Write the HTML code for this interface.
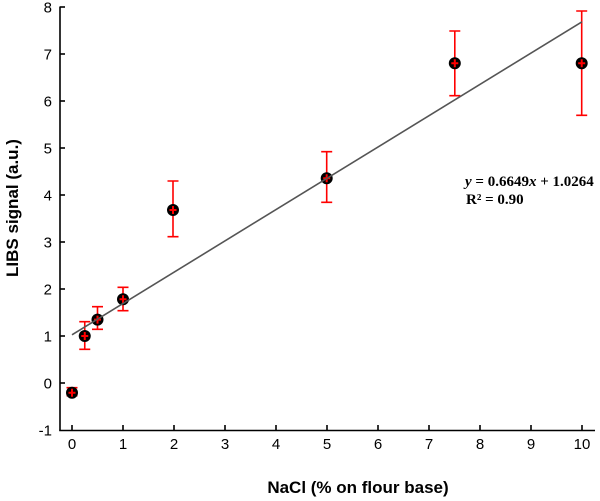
<!DOCTYPE html>
<html><head><meta charset="utf-8"><style>
html,body{margin:0;padding:0;background:#fff;}
svg{display:block;}
</style></head><body>
<svg width="600" height="501" viewBox="0 0 600 501" xmlns="http://www.w3.org/2000/svg">
<rect width="600" height="501" fill="#fff"/>
<!-- axes -->
<g stroke="#000" stroke-width="1.6" fill="none">
<line x1="60" y1="6.5" x2="60" y2="430.5"/>
<line x1="59.2" y1="430.5" x2="595" y2="430.5"/>
<!-- y ticks -->
<line x1="60" y1="7" x2="65" y2="7"/>
<line x1="60" y1="54" x2="65" y2="54"/>
<line x1="60" y1="101" x2="65" y2="101"/>
<line x1="60" y1="148" x2="65" y2="148"/>
<line x1="60" y1="195" x2="65" y2="195"/>
<line x1="60" y1="242" x2="65" y2="242"/>
<line x1="60" y1="289" x2="65" y2="289"/>
<line x1="60" y1="336" x2="65" y2="336"/>
<line x1="60" y1="383" x2="65" y2="383"/>
<!-- x ticks -->
<line x1="72" y1="430" x2="72" y2="425"/>
<line x1="123" y1="430" x2="123" y2="425"/>
<line x1="174" y1="430" x2="174" y2="425"/>
<line x1="225" y1="430" x2="225" y2="425"/>
<line x1="276" y1="430" x2="276" y2="425"/>
<line x1="327" y1="430" x2="327" y2="425"/>
<line x1="378" y1="430" x2="378" y2="425"/>
<line x1="429" y1="430" x2="429" y2="425"/>
<line x1="480" y1="430" x2="480" y2="425"/>
<line x1="531" y1="430" x2="531" y2="425"/>
<line x1="582" y1="430" x2="582" y2="425"/>
</g>
<!-- y labels -->
<g font-family="Liberation Sans, Arial, sans-serif" font-size="15" fill="#000" text-anchor="end">
<text x="52" y="12.5">8</text>
<text x="52" y="59.5">7</text>
<text x="52" y="106.5">6</text>
<text x="52" y="153.5">5</text>
<text x="52" y="200.5">4</text>
<text x="52" y="247.5">3</text>
<text x="52" y="294.5">2</text>
<text x="52" y="341.5">1</text>
<text x="52" y="388.5">0</text>
<text x="52" y="435.5">-1</text>
</g>
<!-- x labels -->
<g font-family="Liberation Sans, Arial, sans-serif" font-size="15" fill="#000" text-anchor="middle">
<text x="72" y="449">0</text>
<text x="123" y="449">1</text>
<text x="174" y="449">2</text>
<text x="225" y="449">3</text>
<text x="276" y="449">4</text>
<text x="327" y="449">5</text>
<text x="378" y="449">6</text>
<text x="429" y="449">7</text>
<text x="480" y="449">8</text>
<text x="531" y="449">9</text>
<text x="582" y="449">10</text>
</g>
<!-- titles -->
<text x="358" y="493" font-family="Liberation Sans, Arial, sans-serif" font-size="17" font-weight="bold" text-anchor="middle">NaCl (% on flour base)</text>
<text transform="translate(18,208) rotate(-90)" font-family="Liberation Sans, Arial, sans-serif" font-size="17" font-weight="bold" text-anchor="middle">LIBS signal (a.u.)</text>
<!-- error bars -->
<g stroke="#ff0000" stroke-width="1.6" fill="none">
<path d="M72 387.7V395.7M66.5 387.7H77.5M66.5 395.7H77.5"/>
<path d="M84.75 321.7V349.3M79.25 321.7H90.25M79.25 349.3H90.25"/>
<path d="M97.5 306.7V329.3M92 306.7H103M92 329.3H103"/>
<path d="M123 287.3V310.7M117.5 287.3H128.5M117.5 310.7H128.5"/>
<path d="M173 181V236.7M167.5 181H178.5M167.5 236.7H178.5"/>
<path d="M326.7 151.7V202.3M321.2 151.7H332.2M321.2 202.3H332.2"/>
<path d="M454.8 31V95.7M449.3 31H460.3M449.3 95.7H460.3"/>
<path d="M581.7 11V115.3M576.2 11H587.2M576.2 115.3H587.2"/>
</g>
<!-- markers -->
<g fill="#000">
<circle cx="72" cy="392.7" r="6"/>
<circle cx="84.75" cy="336" r="6"/>
<circle cx="97.5" cy="319.6" r="6"/>
<circle cx="123" cy="299.3" r="6"/>
<circle cx="173" cy="210" r="6"/>
<circle cx="326.7" cy="178.3" r="6"/>
<circle cx="454.8" cy="63.3" r="6"/>
<circle cx="581.7" cy="63.3" r="6"/>
</g>
<!-- red crosses -->
<g stroke="#ff0000" stroke-width="2" fill="none">
<path d="M72 388.7V396.7M68.5 392.7H75.5"/>
<path d="M84.75 332V340M81.25 336H88.25"/>
<path d="M97.5 315.6V323.6M94 319.6H101"/>
<path d="M123 295.3V303.3M119.5 299.3H126.5"/>
<path d="M173 206V214M169.5 210H176.5"/>
<path d="M326.7 174.3V182.3M323.2 178.3H330.2"/>
<path d="M454.8 59.3V67.3M451.3 63.3H458.3"/>
<path d="M581.7 59.3V67.3M578.2 63.3H585.2"/>
</g>
<!-- trend line -->
<line x1="72" y1="334.8" x2="582" y2="21.8" stroke="#555" stroke-width="1.6"/>
<!-- equation -->
<g font-family="Liberation Serif, 'Times New Roman', serif" font-size="15" font-weight="bold" fill="#000">
<text x="465" y="186"><tspan font-style="italic">y</tspan> = 0.6649<tspan font-style="italic">x</tspan> + 1.0264</text>
<text x="466" y="204">R² = 0.90</text>
</g>
</svg>
</body></html>
